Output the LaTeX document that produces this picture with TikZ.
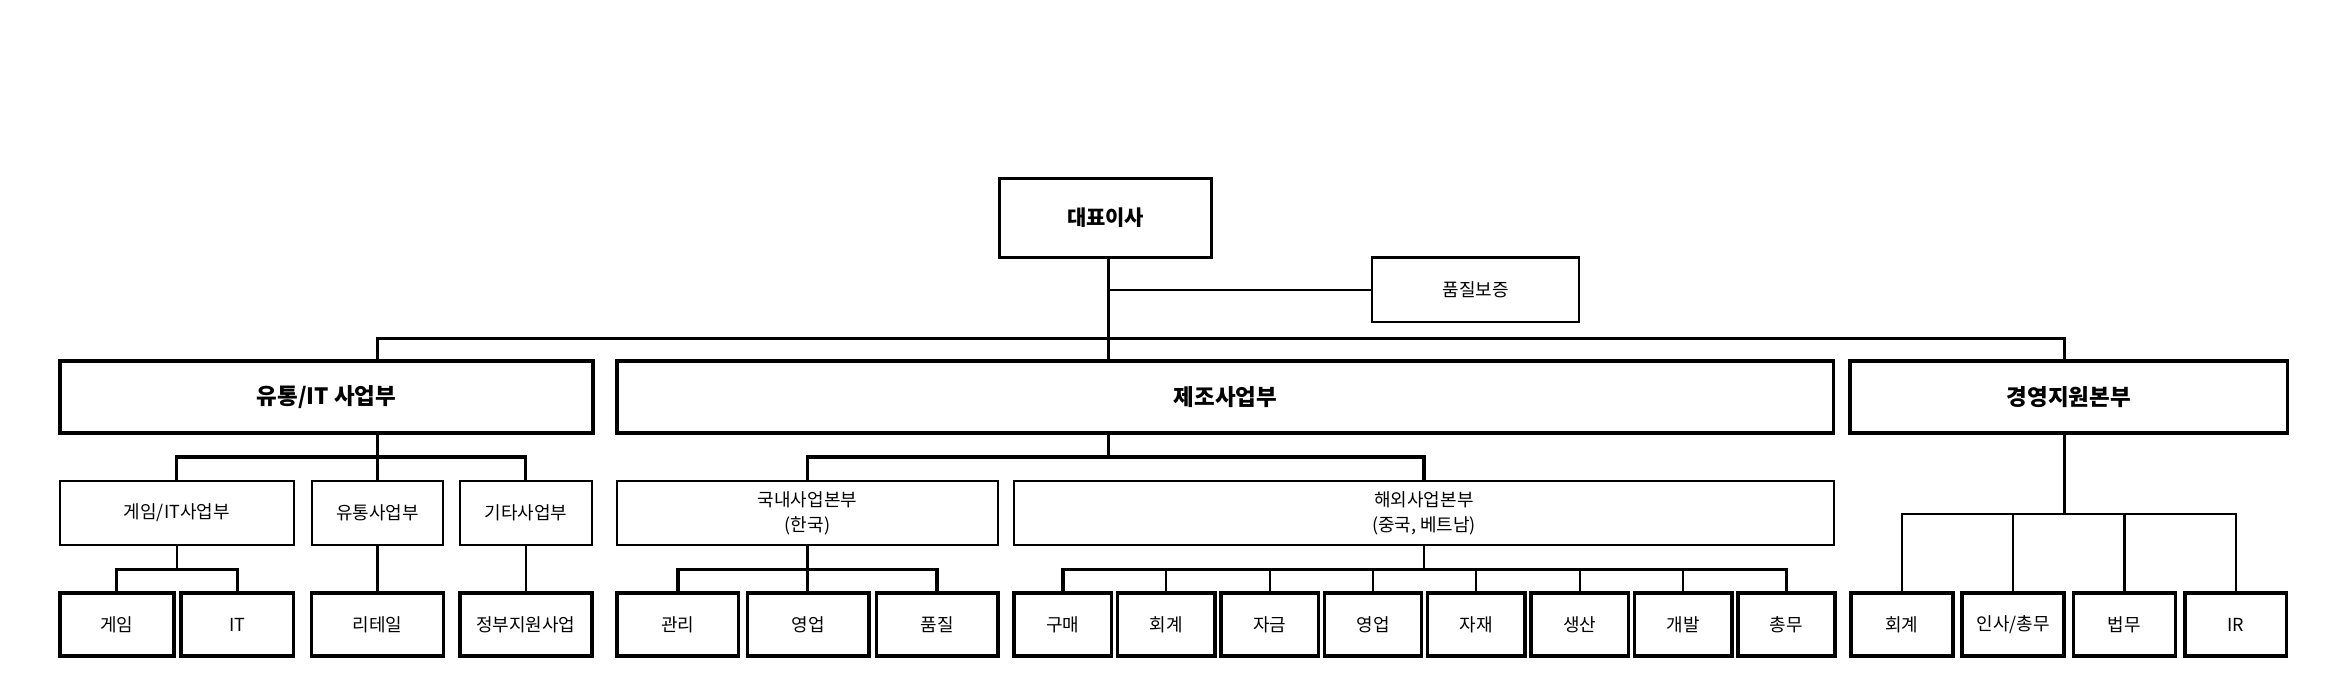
\documentclass[tikz,border=0pt]{standalone}
\usepackage{fontspec}
\setmainfont{Noto Sans CJK KR}
\usetikzlibrary{calc}

\tikzset{
  box/.style={draw,rectangle,inner sep=0pt,align=center,font=\fontsize{12}{17}\selectfont},
  topbox/.style={box,line width=2pt,font=\bfseries\fontsize{14}{17}\selectfont},
  headbox/.style={box,line width=2.4pt,minimum height=48pt,font=\bfseries\fontsize{15}{18}\selectfont},
  unitbox/.style={box,line width=1.4pt,minimum height=43pt},
  teambox/.style={box,line width=2.4pt,minimum height=42pt},
  link/.style={line width=1.5pt},
  bus/.style={line width=2.2pt}
}

\begin{document}
\begin{tikzpicture}[x=1pt,y=-1pt]
\useasboundingbox (0,0) rectangle (1560,464);

% top
\node[topbox,minimum width=142pt,minimum height=53pt] (ceo) at (738,145.5) {대표이사};
\node[box,line width=1.6pt,minimum width=138pt,minimum height=43pt] (qa) at (985,193.5) {품질보증};

% divisions
\node[headbox,minimum width=356pt] (dist) at (218,265) {유통/IT 사업부};
\node[headbox,minimum width=812pt] (mfg) at (818,265) {제조사업부};
\node[headbox,minimum width=292pt] (mgmt) at (1381,265) {경영지원본부};

% units
\node[unitbox,minimum width=156pt] (gameit) at (118,342.5) {게임/IT사업부};
\node[unitbox,minimum width=88pt] (retailu) at (252,342.5) {유통사업부};
\node[unitbox,minimum width=88pt] (etc) at (351,342.5) {기타사업부};
\node[unitbox,minimum width=254pt] (dom) at (539,342.5) {국내사업본부\\(한국)};
\node[unitbox,minimum width=547pt] (ovs) at (950.5,342.5) {해외사업본부\\(중국, 베트남)};

% teams
\node[teambox,minimum width=76pt] (game) at (78,417) {게임};
\node[teambox,minimum width=75pt] (it) at (158.5,417) {IT};
\node[teambox,minimum width=88pt] (retail) at (252,417) {리테일};
\node[teambox,minimum width=88pt] (gov) at (351,417) {정부지원사업};
\node[teambox,minimum width=81pt] (dadm) at (452.5,417) {관리};
\node[teambox,minimum width=81pt] (dsale) at (539.5,417) {영업};
\node[teambox,minimum width=81pt] (dqual) at (625.5,417) {품질};
\foreach \n/\t [count=\i from 0] in {obuy/구매,oacc/회계,ofund/자금,osale/영업,omat/자재,oprod/생산,odev/개발,ogen/총무}
  \node[teambox,minimum width=65pt] (\n) at ({709.5+\i*69},417) {\t};
\foreach \n/\t [count=\i from 0] in {macc/회계,mhr/{인사/총무},mlaw/법무,mir/IR}
  \node[teambox,minimum width=68pt] (\n) at ({1269.5+\i*74.3},417) {\t};

% top links
\coordinate (ceobus) at (740,226);
\draw[link] (ceo.south -| ceobus) -- (ceobus);
\draw[link] (ceo.south -| ceobus) |- (qa.west);
\draw[link] (ceobus) -- (ceobus |- mfg.north);
\draw[bus] (dist.north -| 252,0) -- (252,226) -- (1378,226) -- (mgmt.north -| 1378,0);

% 유통/IT
\draw[link] (dist.south -| retailu) -- (retailu.north);
\draw[bus] (gameit.north) |- (252,305) -| (etc.north);
\draw[link] (gameit.south) -- (118,380);
\draw[bus] (game.north) |- (118,380) -| (it.north);
\draw[link] (retailu.south) -- (retail.north);
\draw[link] (etc.south) -- (gov.north);

% 제조
\draw[link] (mfg.south -| 740,0) -- (740,305);
\draw[bus] (dom.north) |- (740,305) -| (ovs.north);
\draw[link] (dom.south) -- (dsale.north -| dom.south);
\draw[bus] (dadm.north) |- (dom.south |- 0,380) -| (dqual.north);
\draw[link] (ovs.south) -- (ovs.south |- 0,380);
\draw[bus] (obuy.north) |- (ogen.north |- 0,380) -- (ogen.north);
\foreach \n in {oacc,ofund,osale,omat,oprod,odev}
  \draw[link] (\n.north) -- (\n.north |- 0,380);

% 경영지원
\draw[link] (mgmt.south -| 1378,0) -- (1378,343);
\draw[link] (macc.north) |- (mir.north |- 0,343) -- (mir.north);
\foreach \n in {mhr,mlaw}
  \draw[link] (\n.north) -- (\n.north |- 0,343);
\end{tikzpicture}
\end{document}
